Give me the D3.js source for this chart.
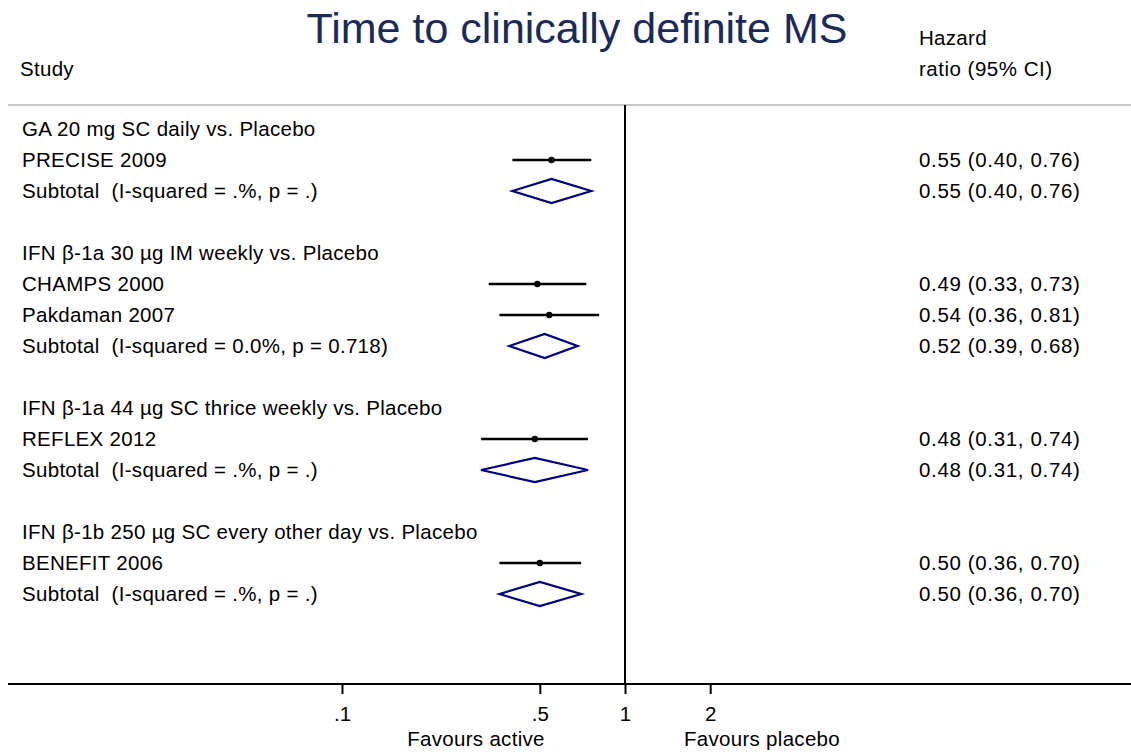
<!DOCTYPE html>
<html>
<head>
<meta charset="utf-8">
<script src="https://cdn.jsdelivr.net/npm/d3@7"></script>
<style>
  body { margin: 0; background: #fff; }
  svg { display: block; font-family: "Liberation Sans", Arial, sans-serif; }
  svg text { white-space: pre; }
</style>
</head>
<body>
<div class="container"></div>
<script>
// rows of the forest plot, top to bottom (null = blank spacer)
var labels = [
  "GA 20 mg SC daily vs. Placebo",
  "PRECISE 2009",
  "Subtotal  (I-squared = .%, p = .)",
  null,
  "IFN \u03b2-1a 30 \u00b5g IM weekly vs. Placebo",
  "CHAMPS 2000",
  "Pakdaman 2007",
  "Subtotal  (I-squared = 0.0%, p = 0.718)",
  null,
  "IFN \u03b2-1a 44 \u00b5g SC thrice weekly vs. Placebo",
  "REFLEX 2012",
  "Subtotal  (I-squared = .%, p = .)",
  null,
  "IFN \u03b2-1b 250 \u00b5g SC every other day vs. Placebo",
  "BENEFIT 2006",
  "Subtotal  (I-squared = .%, p = .)"
];
// row type: h = group heading, s = study, t = subtotal
var kinds = ["h","s","t",null,"h","s","s","t",null,"h","s","t",null,"h","s","t"];
var hr    = [null,0.55,0.55,null,null,0.49,0.54,0.52,null,null,0.48,0.48,null,null,0.50,0.50];
var lower = [null,0.40,0.40,null,null,0.33,0.36,0.39,null,null,0.31,0.31,null,null,0.36,0.36];
var upper = [null,0.76,0.76,null,null,0.73,0.81,0.68,null,null,0.74,0.74,null,null,0.70,0.70];

var tickVals = [0.1, 0.5, 1, 2];
var tickLabels = [".1", ".5", "1", "2"];

var W = 1131, H = 752;
var FS = 20.5;
var svg = d3.select('.container').append('svg')
  .attr('width', W).attr('height', H);

function txt(xp, yp, s, anchor, ls) {
  return svg.append('text')
    .attr('x', xp).attr('y', yp)
    .attr('font-size', FS)
    .attr('letter-spacing', ls == null ? 0.3 : ls)
    .attr('text-anchor', anchor || 'start')
    .text(s);
}

// log scale: 1 decade ~ 283 px, null line at x=625
var x = d3.scaleLog().domain([0.1, 1]).range([342, 625]);
var y = d3.scaleLinear().domain([0, 15]).range([129, 594]);

// title
svg.append('text')
  .attr('x', 577).attr('y', 43)
  .attr('text-anchor', 'middle')
  .attr('font-size', 43)
  .attr('fill', '#1b2a58')
  .text('Time to clinically definite MS');

// headers
txt(20, 76, 'Study');
txt(919, 45, 'Hazard');
txt(919, 76, 'ratio (95% CI)', 'start', 0.5);

// gray rule under header
svg.append('line')
  .attr('x1', 8).attr('x2', W).attr('y1', 105).attr('y2', 105)
  .attr('stroke', '#c8c8c8').attr('stroke-width', 2);

// null line
svg.append('line')
  .attr('x1', x(1)).attr('x2', x(1)).attr('y1', 105).attr('y2', 684)
  .attr('stroke', '#000').attr('stroke-width', 2);

// bottom axis
var axis = d3.axisBottom(x)
  .tickValues(tickVals)
  .tickFormat(function(d, i) { return tickLabels[i]; })
  .tickSize(10)
  .tickSizeOuter(0);
var ax = svg.append('g').attr('transform', 'translate(0,684)').call(axis);
ax.select('.domain').remove();
ax.selectAll('.tick line').attr('stroke', '#000').attr('stroke-width', 2);
ax.selectAll('.tick text').attr('font-size', FS).attr('fill', '#000')
  .attr('font-family', '"Liberation Sans", Arial, sans-serif')
  .attr('y', 0).attr('dy', 0)
  .attr('transform', 'translate(0,37)');
svg.append('line')
  .attr('x1', 8).attr('x2', W).attr('y1', 684).attr('y2', 684)
  .attr('stroke', '#000').attr('stroke-width', 2);

txt(476, 746, 'Favours active', 'middle');
txt(762, 746, 'Favours placebo', 'middle');

// rows
labels.forEach(function(lab, i) {
  if (lab === null) return;
  var yy = y(i);
  txt(22, yy, lab).attr('dy', '0.36em');

  if (kinds[i] === 'h') return;

  txt(919, yy, hr[i].toFixed(2) + ' (' + lower[i].toFixed(2) + ', ' + upper[i].toFixed(2) + ')', 'start', 0.65)
    .attr('dy', '0.36em');

  if (kinds[i] === 's') {
    svg.append('line')
      .attr('x1', x(lower[i])).attr('x2', x(upper[i]))
      .attr('y1', yy).attr('y2', yy)
      .attr('stroke', '#000').attr('stroke-width', 2.5);
    svg.append('circle')
      .attr('cx', x(hr[i])).attr('cy', yy).attr('r', 3.2)
      .attr('fill', '#000');
  } else {
    var pts = [[x(lower[i]), yy], [x(hr[i]), yy - 12], [x(upper[i]), yy], [x(hr[i]), yy + 12]];
    svg.append('polygon')
      .attr('points', pts.map(function(p) { return p.join(','); }).join(' '))
      .attr('fill', 'none')
      .attr('stroke', '#000080')
      .attr('stroke-width', 2.2);
  }
});
</script>
</body>
</html>
